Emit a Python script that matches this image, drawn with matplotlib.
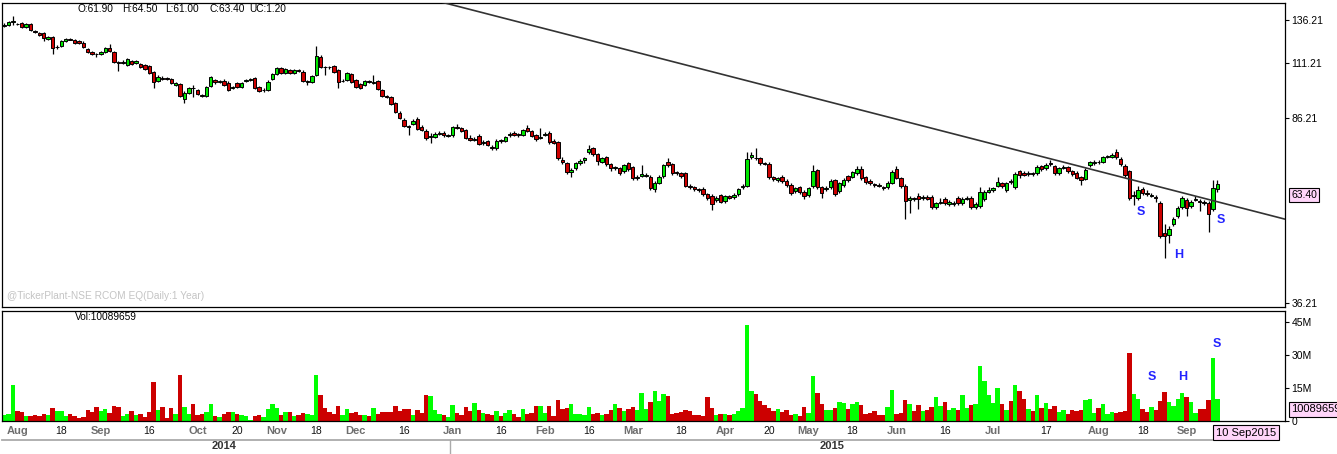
import matplotlib
matplotlib.use('Agg')
import matplotlib.pyplot as plt
import numpy as np
from matplotlib.ticker import FixedLocator, NullLocator
from matplotlib.transforms import blended_transform_factory
from matplotlib.lines import Line2D

# RCOM daily candles (rupees)
opens = [
    132.6, 132.9, 134.9, 133.8, 134.1, 131.9, 133.5, 129.3, 128.0, 128.0,
    124.5, 126.0, 119.9, 120.6, 123.6, 124.6, 124.1, 123.5, 122.6, 118.8,
    117.5, 116.4, 116.2, 117.5, 119.4, 117.2, 111.9, 111.3, 110.4, 112.6,
    111.5, 110.9, 110.4, 109.8, 107.0, 102.6, 104.0, 103.8, 103.2, 100.4,
    100.9, 94.0, 97.0, 99.2, 98.2, 96.0, 95.5, 100.1, 102.9, 101.9,
    102.6, 101.6, 99.1, 101.3, 99.5, 102.4, 103.0, 103.7, 99.5, 98.0,
    98.2, 103.2, 105.8, 108.7, 106.2, 107.8, 106.5, 107.7, 107.0, 102.1,
    102.1, 105.4, 114.8, 109.5, 109.5, 109.7, 107.8, 102.2, 102.9, 105.8,
    102.9, 101.0, 100.5, 102.3, 101.4, 102.4, 98.2, 95.4, 94.9, 92.3,
    88.3, 85.4, 82.9, 83.8, 85.8, 82.7, 81.1, 78.8, 79.0, 80.0,
    80.4, 79.2, 79.5, 82.7, 82.1, 81.5, 78.3, 77.9, 79.2, 76.5,
    77.4, 75.4, 74.8, 77.7, 77.5, 79.4, 80.4, 79.8, 79.6, 82.1,
    81.0, 79.6, 78.4, 79.6, 80.4, 77.5, 76.9, 70.8, 69.7, 66.9,
    68.1, 69.7, 70.7, 73.4, 74.8, 72.7, 70.3, 71.7, 69.4, 68.1,
    68.1, 67.2, 69.7, 68.4, 65.0, 65.8, 65.8, 65.5, 61.8, 63.7,
    65.7, 70.1, 69.4, 66.9, 66.5, 66.5, 62.7, 62.3, 61.8, 61.8,
    60.3, 59.9, 58.7, 60.0, 58.4, 59.7, 59.5, 60.3, 62.3, 62.8,
    71.7, 71.6, 71.4, 69.9, 69.5, 65.3, 64.5, 65.5, 64.2, 63.0,
    61.3, 62.3, 60.9, 60.0, 62.7, 67.5, 62.3, 61.8, 62.3, 64.4,
    61.3, 63.0, 65.6, 65.5, 66.5, 68.0, 65.3, 64.2, 63.2, 63.1,
    62.4, 62.3, 63.7, 68.0, 65.0, 62.7, 58.8, 59.2, 59.9, 59.2,
    59.5, 59.6, 56.8, 57.9, 59.0, 57.7, 57.6, 59.2, 58.0, 59.0,
    59.2, 56.9, 57.0, 59.0, 61.0, 61.6, 62.8, 63.5, 61.6, 64.2,
    62.3, 67.1, 66.7, 66.2, 66.6, 66.5, 68.8, 68.1, 69.8, 68.7,
    66.5, 68.2, 68.4, 67.2, 66.7, 65.3, 64.9, 69.1, 69.8, 70.3,
    70.2, 71.7, 71.9, 73.4, 71.2, 69.0, 67.1, 59.7, 59.2, 61.9,
    60.6, 59.8, 59.6, 58.0, 50.4, 49.9, 52.4, 54.5, 56.9, 58.7,
    57.1, 58.7, 58.5, 58.3, 58.0, 56.2, 61.9,
]
highs = [
    134.0, 135.5, 138.8, 134.5, 134.8, 134.3, 134.2, 130.0, 128.8, 128.6,
    126.3, 126.5, 121.0, 123.8, 125.0, 125.3, 124.8, 124.2, 123.2, 119.5,
    118.1, 117.0, 118.1, 120.0, 121.7, 117.8, 112.5, 112.8, 114.0, 113.2,
    112.8, 111.5, 111.0, 110.4, 107.5, 105.2, 104.6, 104.4, 103.8, 101.9,
    101.5, 97.6, 99.7, 100.5, 98.8, 96.6, 100.1, 104.8, 103.5, 102.9,
    103.2, 102.2, 100.1, 101.9, 101.9, 103.4, 104.0, 104.3, 100.0, 99.0,
    102.7, 106.4, 109.3, 109.3, 108.8, 108.4, 108.4, 108.3, 107.6, 103.0,
    105.5, 120.6, 115.7, 110.0, 110.0, 110.3, 108.4, 103.2, 106.8, 106.4,
    103.5, 101.6, 103.0, 102.9, 105.4, 103.0, 98.8, 96.0, 95.5, 92.9,
    88.9, 86.0, 83.3, 85.7, 86.4, 83.3, 81.7, 80.5, 80.6, 81.0,
    81.0, 80.1, 83.1, 83.7, 82.7, 82.0, 79.5, 78.8, 79.8, 77.6,
    77.9, 75.9, 78.0, 78.2, 79.2, 80.7, 80.9, 80.3, 82.0, 83.3,
    81.5, 80.1, 82.3, 80.6, 80.9, 78.0, 77.4, 71.8, 70.2, 68.1,
    70.2, 71.0, 71.9, 76.0, 75.3, 73.2, 71.8, 72.2, 69.9, 69.0,
    68.6, 69.6, 70.2, 68.9, 65.9, 69.2, 66.6, 66.0, 64.2, 66.0,
    69.6, 71.4, 69.9, 67.4, 67.0, 67.0, 63.2, 62.8, 62.2, 62.3,
    60.8, 60.4, 59.9, 60.5, 60.2, 60.1, 60.6, 62.2, 63.2, 73.6,
    73.6, 74.8, 71.9, 70.3, 70.0, 65.8, 65.5, 66.0, 64.7, 63.5,
    62.5, 62.8, 61.4, 62.5, 69.2, 68.0, 62.8, 62.7, 64.7, 64.9,
    64.0, 65.0, 66.1, 67.3, 68.9, 68.7, 65.8, 64.7, 63.6, 63.6,
    62.8, 64.2, 67.6, 68.9, 65.5, 63.2, 59.7, 59.6, 60.7, 60.0,
    60.0, 60.1, 58.3, 59.4, 59.5, 58.6, 58.5, 59.7, 59.5, 59.9,
    59.7, 58.1, 62.4, 61.4, 62.5, 62.5, 65.4, 64.0, 64.0, 64.7,
    66.8, 67.6, 67.2, 67.1, 67.0, 69.1, 69.3, 69.7, 70.8, 69.2,
    68.6, 69.1, 68.9, 67.7, 67.2, 65.8, 68.1, 70.5, 70.7, 70.8,
    72.2, 72.6, 73.1, 74.5, 71.7, 69.5, 67.6, 61.2, 62.7, 62.4,
    61.6, 60.7, 60.1, 58.5, 52.6, 51.9, 54.2, 57.0, 59.9, 59.2,
    58.8, 59.8, 58.9, 58.7, 58.5, 64.5, 64.5,
]
lows = [
    132.0, 132.5, 133.1, 132.8, 131.3, 131.4, 129.3, 128.0, 126.2, 123.5,
    124.0, 116.3, 119.0, 120.0, 123.0, 123.8, 122.0, 121.6, 119.4, 116.9,
    115.5, 114.8, 115.6, 117.0, 117.4, 111.2, 107.5, 110.7, 109.8, 110.3,
    111.0, 109.0, 107.7, 105.6, 99.0, 102.0, 103.0, 102.8, 101.0, 99.9,
    95.0, 92.3, 96.4, 94.9, 95.9, 94.9, 95.0, 99.6, 101.2, 101.4,
    100.0, 97.7, 98.6, 99.0, 99.0, 101.9, 102.6, 98.5, 97.4, 97.5,
    97.7, 102.7, 105.3, 106.0, 105.7, 105.7, 106.0, 106.8, 101.8, 100.6,
    101.6, 104.8, 108.7, 105.4, 108.5, 106.5, 99.0, 101.7, 102.4, 101.6,
    99.0, 98.5, 100.0, 101.4, 101.0, 98.0, 95.0, 94.6, 91.5, 88.2,
    85.6, 82.5, 79.6, 83.3, 81.5, 81.0, 77.9, 76.8, 78.5, 79.6,
    78.9, 78.8, 79.0, 82.0, 80.6, 78.1, 77.4, 77.3, 75.8, 76.0,
    75.5, 74.3, 74.3, 76.8, 77.0, 78.9, 79.1, 79.0, 79.1, 80.7,
    78.7, 77.5, 78.0, 79.1, 76.4, 76.3, 70.9, 69.6, 66.4, 65.5,
    67.6, 69.3, 69.8, 72.9, 72.2, 69.2, 69.8, 68.9, 67.3, 67.6,
    66.0, 66.7, 67.3, 64.5, 64.6, 65.4, 65.4, 61.5, 60.9, 63.2,
    65.2, 68.6, 66.0, 66.1, 65.2, 62.3, 61.9, 61.3, 61.0, 59.8,
    58.7, 56.1, 58.2, 57.8, 57.9, 58.9, 59.0, 59.8, 61.9, 62.3,
    71.2, 70.9, 69.2, 69.1, 64.8, 64.2, 64.0, 63.7, 62.5, 60.1,
    60.8, 60.4, 59.0, 59.5, 62.2, 61.8, 59.2, 61.3, 61.8, 59.8,
    60.8, 62.5, 64.0, 65.0, 66.0, 64.5, 63.4, 63.0, 62.4, 62.3,
    61.6, 61.8, 63.2, 64.7, 62.2, 53.7, 55.2, 58.4, 56.2, 58.8,
    58.6, 56.3, 56.3, 57.6, 57.3, 57.2, 57.1, 57.3, 57.5, 58.6,
    56.4, 56.4, 56.5, 58.5, 60.6, 61.1, 62.3, 62.2, 61.1, 63.4,
    61.8, 65.0, 65.6, 65.8, 65.8, 66.0, 67.3, 67.6, 69.0, 66.0,
    66.0, 67.8, 66.6, 65.7, 64.7, 63.0, 64.4, 68.6, 69.3, 69.5,
    69.7, 71.3, 71.4, 71.2, 69.0, 65.5, 58.7, 57.4, 58.7, 60.1,
    59.9, 59.5, 58.2, 49.1, 44.8, 48.0, 51.9, 54.0, 56.4, 54.5,
    56.6, 58.4, 55.8, 57.5, 50.6, 55.7, 61.0,
]
closes = [
    133.0, 134.8, 135.3, 133.4, 131.9, 133.7, 130.0, 128.9, 126.8, 125.1,
    125.7, 119.4, 120.2, 123.2, 124.4, 124.3, 122.6, 122.2, 120.1, 117.5,
    116.2, 116.0, 117.5, 119.4, 118.0, 111.8, 111.5, 112.1, 113.3, 110.9,
    112.2, 109.5, 108.2, 106.2, 102.1, 104.5, 103.6, 103.4, 101.5, 101.3,
    95.5, 97.0, 99.0, 98.9, 96.4, 95.5, 99.5, 104.2, 101.7, 102.3,
    100.5, 98.2, 99.5, 99.5, 101.3, 102.8, 103.4, 99.0, 97.9, 98.4,
    102.1, 105.8, 108.7, 106.5, 108.2, 106.2, 107.8, 107.3, 102.3, 102.5,
    104.9, 115.1, 109.3, 109.2, 109.1, 107.0, 102.1, 102.6, 106.2, 102.1,
    99.5, 99.0, 102.4, 101.9, 101.8, 98.5, 95.5, 95.1, 92.0, 88.7,
    86.1, 83.0, 82.5, 85.1, 82.0, 81.5, 78.4, 79.2, 80.0, 80.4,
    79.4, 79.6, 82.5, 82.4, 81.1, 78.6, 77.9, 78.2, 76.3, 77.1,
    76.0, 74.8, 77.5, 77.3, 78.7, 80.1, 79.6, 79.4, 81.5, 81.2,
    79.2, 78.0, 78.8, 80.1, 76.9, 76.8, 71.4, 70.1, 66.9, 67.6,
    69.7, 70.5, 71.4, 74.4, 72.7, 70.6, 71.3, 69.4, 68.1, 68.5,
    66.5, 69.1, 67.8, 65.0, 65.4, 66.2, 66.1, 62.0, 63.7, 65.5,
    69.1, 69.1, 66.5, 66.6, 65.7, 62.8, 62.4, 61.8, 61.5, 60.3,
    59.2, 57.6, 59.4, 58.3, 59.7, 59.4, 60.1, 61.7, 62.7, 71.0,
    72.5, 71.3, 69.7, 69.6, 65.3, 64.7, 65.0, 64.2, 63.0, 60.6,
    62.0, 60.9, 59.9, 62.0, 67.3, 62.3, 60.6, 62.2, 64.2, 60.3,
    63.5, 64.5, 64.5, 66.8, 67.8, 65.0, 63.9, 63.5, 62.9, 62.8,
    62.1, 63.7, 67.0, 65.2, 62.7, 58.4, 59.2, 58.9, 59.0, 59.5,
    59.0, 56.8, 57.8, 58.3, 57.8, 58.1, 58.0, 57.8, 59.0, 59.4,
    56.9, 57.6, 61.0, 60.9, 61.4, 62.0, 63.8, 62.7, 63.5, 63.9,
    66.3, 65.9, 66.1, 66.6, 66.3, 68.6, 67.8, 69.2, 69.5, 66.5,
    68.1, 68.6, 67.1, 66.2, 65.2, 64.5, 67.6, 70.0, 70.2, 70.0,
    71.7, 72.1, 72.6, 71.7, 69.5, 66.0, 59.2, 60.0, 61.6, 60.6,
    60.3, 60.2, 59.2, 49.6, 49.6, 51.4, 53.7, 56.5, 59.4, 56.5,
    58.3, 59.1, 58.2, 57.9, 55.0, 62.2, 63.4,
]
# volume in millions of shares
volumes = [
    2.6, 3.3, 16.2, 4.4, 3.9, 2.4, 2.1, 2.6, 2.1, 3.3,
    2.6, 5.8, 4.4, 4.4, 2.1, 3.0, 2.1, 1.4, 1.7, 4.8,
    3.9, 6.2, 4.4, 5.3, 3.5, 6.7, 6.2, 2.1, 3.0, 4.4,
    2.6, 3.0, 1.7, 3.9, 17.6, 4.8, 6.2, 1.2, 5.8, 3.0,
    20.8, 6.2, 3.0, 7.6, 2.6, 3.0, 3.9, 7.6, 2.1, 1.7,
    3.0, 3.9, 3.9, 3.0, 2.6, 2.1, 0.5, 2.1, 2.6, 1.7,
    5.3, 7.6, 5.8, 2.6, 3.9, 3.9, 2.1, 2.6, 3.5, 3.0,
    2.6, 21.2, 11.7, 5.8, 3.9, 3.0, 6.7, 2.6, 5.3, 3.5,
    3.9, 2.6, 2.6, 2.1, 5.8, 3.0, 3.9, 3.9, 3.9, 6.7,
    4.4, 5.3, 5.3, 2.6, 4.8, 3.5, 11.7, 11.2, 4.8, 3.0,
    2.6, 1.7, 7.1, 3.5, 2.6, 6.2, 4.4, 8.0, 4.8, 3.5,
    3.0, 2.6, 4.4, 2.1, 3.5, 4.8, 3.0, 1.7, 5.3, 3.0,
    3.5, 6.7, 6.7, 3.5, 6.7, 2.1, 9.4, 5.3, 5.8, 7.6,
    3.0, 3.0, 2.6, 6.2, 3.0, 3.5, 2.6, 3.0, 4.8, 7.6,
    5.8, 4.4, 5.3, 6.2, 4.8, 12.6, 5.3, 8.5, 13.5, 8.9,
    12.1, 11.2, 3.0, 3.5, 3.9, 4.8, 4.4, 2.6, 2.6, 2.1,
    10.8, 5.8, 2.6, 3.0, 3.0, 2.6, 3.0, 4.4, 5.8, 43.9,
    13.9, 12.1, 8.9, 7.1, 5.8, 4.4, 5.3, 3.9, 4.8, 2.6,
    3.0, 2.1, 6.2, 3.5, 20.3, 12.6, 7.6, 4.8, 4.8, 5.8,
    8.5, 8.0, 5.3, 7.6, 8.5, 7.1, 3.0, 3.5, 4.4, 2.6,
    2.6, 6.2, 14.0, 3.1, 3.5, 9.5, 7.6, 4.4, 7.2, 4.4,
    4.9, 6.3, 10.8, 6.7, 8.5, 4.9, 5.8, 4.9, 11.8, 5.8,
    7.2, 7.6, 25.0, 18.2, 11.8, 8.1, 15.0, 7.6, 4.9, 9.0,
    16.3, 13.6, 9.9, 5.3, 4.4, 11.8, 5.8, 8.1, 5.3, 6.7,
    4.0, 4.9, 3.1, 4.9, 4.4, 4.9, 9.5, 9.9, 3.5, 5.8,
    7.6, 3.1, 4.0, 3.5, 4.0, 4.4, 31.0, 12.2, 9.9, 5.3,
    4.0, 6.3, 4.9, 9.0, 13.1, 8.5, 6.7, 9.9, 12.7, 10.8,
    8.5, 3.5, 5.3, 5.3, 9.5, 28.7, 10.089659,
]

date_ticks = [3, 13, 22, 33, 44, 53, 62, 71, 80, 91, 102, 113, 123, 133,
              143, 154, 164, 174, 183, 193, 203, 214, 225, 237, 249, 259, 269]
date_labels = ['Aug', '18', 'Sep', '16', 'Oct', '20', 'Nov', '18', 'Dec', '16',
               'Jan', '16', 'Feb', '16', 'Mar', '18', 'Apr', '20', 'May', '18',
               'Jun', '16', 'Jul', '17', 'Aug', '18', 'Sep']
year_pos = [50, 188.4]
year_labels = ['2014', '2015']
year_break = 101.5

price_ticks = [36.21, 86.21, 111.21, 136.21]
vol_ticks = [0, 15, 30, 45]
vol_tick_labels = ['0', '15M', '30M', '45M']

# trend line drawn by hand on the chart (bar index, price)
trend_x = [99.2, 291.4]
trend_y = [148.3, 53.7]

# head & shoulders marks
pat_price = [(258.6, 55.5, 'S'), (267.1, 45.4, 'H'), (276.8, 53.5, 'S')]
pat_vol = [(261, 20.1, 'S'), (268.2, 20.1, 'H'), (276, 35.1, 'S')]

W, H = 1337, 454
plt.rcParams['font.family'] = ['Liberation Sans', 'DejaVu Sans']
fig = plt.figure(figsize=(W / 100, H / 100), dpi=100)
fig.patch.set_facecolor('white')


def fx(px):
    return px / W


def fy(py):
    return 1 - py / H


ax = fig.add_axes([fx(2), fy(306.7), fx(1285) - fx(2), fy(2.5) - fy(306.7)])
axv = fig.add_axes([fx(2), fy(421), fx(1285) - fx(2), fy(310.5) - fy(421)])

x = np.arange(len(closes))
up = [c >= o for o, c in zip(opens, closes)]
body_col = ['#00e600' if u else '#cc0000' for u in up]
vol_col = ['#00ff00' if u else '#cc0000' for u in up]

ax.set_yscale('log')
ax.vlines(x, lows, highs, color='black', lw=0.9, zorder=2)
bottoms = [min(o, c) for o, c in zip(opens, closes)]
heights = [max(abs(c - o), 0.25) for o, c in zip(opens, closes)]
ax.bar(x, heights, bottom=bottoms, width=0.78, color=body_col,
       edgecolor='black', linewidth=0.7, zorder=3)
ax.plot(trend_x, trend_y, color='#333333', lw=1.2, zorder=4)

for i, p, s in pat_price:
    ax.text(i, p, s, color='#2323ff', fontsize=9, fontweight='bold',
            ha='center', va='center')

ax.set_xlim(-0.5, 291.4)
ax.set_ylim(35.67, 147.8)
ax.set_xticks([])
ax.yaxis.set_major_locator(FixedLocator(price_ticks))
ax.yaxis.set_minor_locator(NullLocator())
ax.set_yticklabels(['%.2f' % t for t in price_ticks])
ax.yaxis.tick_right()
ax.tick_params(axis='y', direction='out', length=3, width=0.8, pad=1.5,
               labelsize=7.5)

# volume panel
axv.bar(x, volumes, width=1.0, color=vol_col, linewidth=0)
for i, v, s in pat_vol:
    axv.text(i, v, s, color='#2323ff', fontsize=9, fontweight='bold',
             ha='center', va='center')
axv.set_xlim(-0.5, 291.4)
axv.set_ylim(0, 50.4)
axv.set_xticks([])
axv.set_yticks(vol_ticks)
axv.set_yticklabels(vol_tick_labels)
axv.yaxis.tick_right()
axv.tick_params(axis='y', direction='out', length=3, width=0.8, pad=1.5,
                labelsize=7.5)

for a in (ax, axv):
    for sp in a.spines.values():
        sp.set_linewidth(0.9)
        sp.set_color('black')

# date axis
trans = blended_transform_factory(axv.transData, fig.transFigure)
for i, lab in zip(date_ticks, date_labels):
    if lab.isalpha():
        axv.text(i, fy(431.5), lab, transform=trans, ha='center', va='center',
                 fontsize=8, fontweight='bold', color='#6e6e6e')
    else:
        axv.text(i, fy(431.5), lab, transform=trans, ha='center', va='center',
                 fontsize=7.5, color='#111111')
for i, lab in zip(year_pos, year_labels):
    axv.text(i, fy(446), lab, transform=trans, ha='center', va='center',
             fontsize=8, fontweight='bold', color='#333333')
axv.plot([year_break, year_break], [fy(440), fy(454)], transform=trans,
         color='#aaaaaa', lw=1, clip_on=False)
fig.add_artist(Line2D([fx(2), fx(1212)], [fy(439.5), fy(439.5)],
                      transform=fig.transFigure, color='#aaaaaa', lw=1.3))

# header texts
hdr = [(78, 'O:%.2f' % opens[-1]), (122, 'H:%.2f' % highs[-1]),
       (165, 'L:%.2f' % lows[-1]), (210, 'C:%.2f' % closes[-1]),
       (249, 'UC:%.2f' % (closes[-1] - closes[-2]))]
for px, t in hdr:
    fig.text(fx(px), fy(8.5), t, ha='left', va='center', fontsize=7.3,
             color='black')
fig.text(fx(75), fy(317), 'Vol:%d' % round(volumes[-1] * 1e6), ha='left',
         va='center', fontsize=7.3, color='black')
fig.text(fx(7), fy(296), '@TickerPlant-NSE RCOM EQ(Daily:1 Year)', ha='left',
         va='center', fontsize=7.3, color='#c4c4c4')

box = dict(boxstyle='square,pad=0.2', fc='#ffd5fa', ec='black', lw=0.8)
fig.text(fx(1291), fy(195), '%.2f' % closes[-1], ha='left', va='center',
         fontsize=7.5, bbox=box)
fig.text(fx(1291), fy(409.5), '%d' % round(volumes[-1] * 1e6), ha='left',
         va='center', fontsize=8, bbox=box)
fig.text(fx(1216), fy(432.5), '10 Sep2015', ha='left', va='center',
         fontsize=8, bbox=dict(boxstyle='square,pad=0.25', fc='#ffd5fa',
                               ec='black', lw=0.8))

fig.savefig('out.png', dpi=100, facecolor='white')
